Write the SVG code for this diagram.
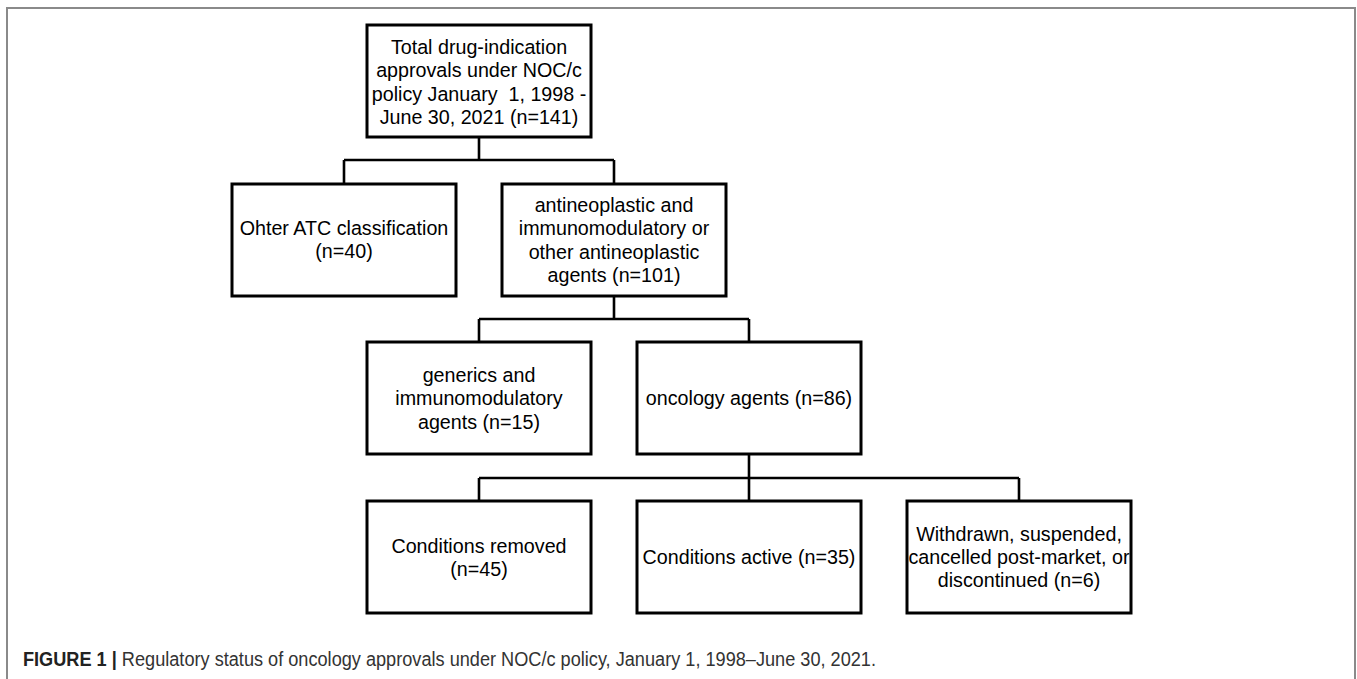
<svg xmlns="http://www.w3.org/2000/svg" width="1357" height="679" viewBox="0 0 1357 679">
<style>
.box{fill:#fff;stroke:#000;stroke-width:3}
.lbl{font-family:"Liberation Sans",Arial,sans-serif;font-size:19.7px;fill:#000;text-anchor:middle}
.conn{fill:none;stroke:#000;stroke-width:2.6}
.cap{font-family:"Liberation Sans",Arial,sans-serif;font-size:19.5px;fill:#333}
</style>
<rect x="0" y="0" width="1357" height="679" fill="#fff"/>
<rect x="7" y="8" width="1348" height="720" fill="none" stroke="#8a8a8a" stroke-width="2"/>
<g id="connectors">
<path class="conn" d="M479,137 V160 M344,160 H614 M344,160 V184 M614,160 V184"/>
<path class="conn" d="M614,296 V319 M479,319 H749 M479,319 V342 M749,319 V342"/>
<path class="conn" d="M749,454 V478 M479,478 H1019 M479,478 V501 M749,478 V501 M1019,478 V501"/>
</g>
<g id="n-total">
<rect class="box" x="367" y="25" width="224" height="112"/>
<text class="lbl" x="479" y="54">Total drug-indication</text>
<text class="lbl" x="479" y="77.3">approvals under NOC/c</text>
<text class="lbl" x="479" y="100.6" style="white-space:pre">policy January  1, 1998 -</text>
<text class="lbl" x="479" y="124">June 30, 2021 (n=141)</text>
</g>
<g id="n-other">
<rect class="box" x="232" y="184" width="224" height="112"/>
<text class="lbl" x="344" y="235">Ohter ATC classification</text>
<text class="lbl" x="344" y="258.3">(n=40)</text>
</g>
<g id="n-antineo">
<rect class="box" x="502" y="184" width="224" height="112"/>
<text class="lbl" x="614" y="212">antineoplastic and</text>
<text class="lbl" x="614" y="235.3">immunomodulatory or</text>
<text class="lbl" x="614" y="258.6">other antineoplastic</text>
<text class="lbl" x="614" y="282">agents (n=101)</text>
</g>
<g id="n-generics">
<rect class="box" x="367" y="342" width="224" height="112"/>
<text class="lbl" x="479" y="382">generics and</text>
<text class="lbl" x="479" y="405.3">immunomodulatory</text>
<text class="lbl" x="479" y="428.6">agents (n=15)</text>
</g>
<g id="n-oncology">
<rect class="box" x="637" y="342" width="224" height="112"/>
<text class="lbl" x="749" y="405">oncology agents (n=86)</text>
</g>
<g id="n-removed">
<rect class="box" x="367" y="501" width="224" height="112"/>
<text class="lbl" x="479" y="552.5">Conditions removed</text>
<text class="lbl" x="479" y="575.8">(n=45)</text>
</g>
<g id="n-active">
<rect class="box" x="637" y="501" width="224" height="112"/>
<text class="lbl" x="749" y="564">Conditions active (n=35)</text>
</g>
<g id="n-withdrawn">
<rect class="box" x="907" y="501" width="224" height="112"/>
<text class="lbl" x="1019" y="540.7">Withdrawn, suspended,</text>
<text class="lbl" x="1019" y="564">cancelled post-market, or</text>
<text class="lbl" x="1019" y="587.3">discontinued (n=6)</text>
</g>
<text class="cap" x="23" y="666" textLength="853" lengthAdjust="spacingAndGlyphs"><tspan font-weight="bold" fill="#222">FIGURE 1 | </tspan>Regulatory status of oncology approvals under NOC/c policy, January 1, 1998–June 30, 2021.</text>
</svg>
